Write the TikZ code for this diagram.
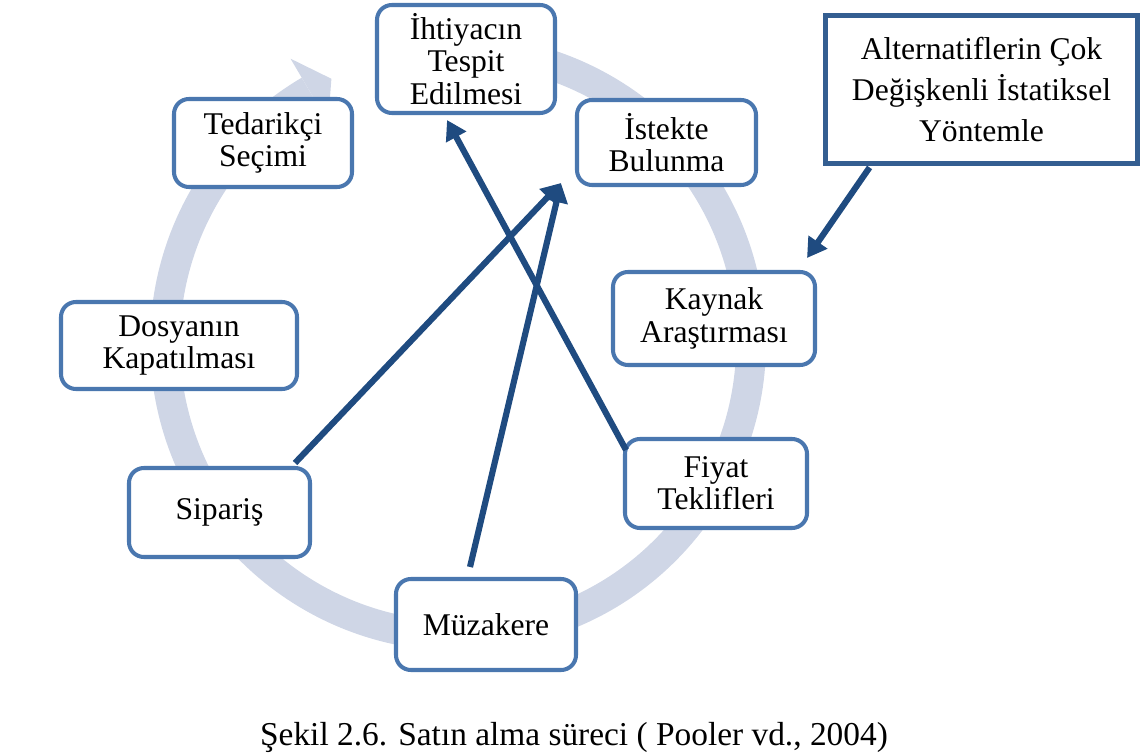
\documentclass[tikz,border=0pt]{standalone}
\usepackage{fontspec}
\setmainfont{Liberation Serif}
\usetikzlibrary{arrows.meta,calc}
\definecolor{boxblue}{RGB}{74,119,175}
\definecolor{connblue}{RGB}{31,75,128}
\definecolor{altblue}{RGB}{52,94,145}
\definecolor{ringblue}{RGB}{207,214,230}
\begin{document}
\begin{tikzpicture}[x=0.02cm,y=-0.02cm,
  stepnode/.style={draw=boxblue, line width=2.3pt, rounded corners=8.5pt, fill=white,
    align=center, inner sep=0pt, font=\fontsize{18}{18.4}\selectfont},
  altnode/.style={draw=altblue, line width=2.8pt, fill=white, align=center, inner sep=0pt,
    font=\fontsize{18}{23.5}\selectfont},
  conn/.style={draw=connblue, line width=3.5pt, -{Triangle[length=11pt,width=12.5pt]}},
  ring/.style={draw=ringblue, line width=17pt},
]
\useasboundingbox (0,0) rectangle (1141,756);
% cycle ring
\coordinate (C) at (458,343);
\draw[ring] ($(C)+(-103:293)$) arc[start angle=-103, end angle=239.5, radius=293];
\fill[ringblue] ($(C)+(239.5:330)$) -- ($(C)+(244.4:293)$) -- ($(C)+(239.5:256)$) -- cycle;
% steps
\node[stepnode, minimum width=178*0.02cm, minimum height=108*0.02cm] (ihtiyac) at (466,59) {İhtiyacın\\Tespit\\Edilmesi};
\node[stepnode, minimum width=179*0.02cm, minimum height=85*0.02cm] (istekte) at (666.5,142.5) {İstekte\\Bulunma};
\node[stepnode, minimum width=178*0.02cm, minimum height=88*0.02cm] (tedarik) at (263,143) {Tedarikçi\\Seçimi};
\node[stepnode, minimum width=202*0.02cm, minimum height=93*0.02cm] (kaynak) at (714,318.5) {Kaynak\\Araştırması};
\node[stepnode, minimum width=236*0.02cm, minimum height=87*0.02cm] (dosya) at (179,345.5) {Dosyanın\\Kapatılması};
\node[stepnode, minimum width=181*0.02cm, minimum height=89*0.02cm] (siparis) at (219.5,512.5) {Sipariş};
\node[stepnode, minimum width=182*0.02cm, minimum height=89*0.02cm] (fiyat) at (716,483.5) {Fiyat\\Teklifleri};
\node[stepnode, minimum width=180*0.02cm, minimum height=91*0.02cm] (muzakere) at (486,624.5) {Müzakere};
\node[altnode, minimum width=312*0.02cm, minimum height=148*0.02cm] (alt) at (981.5,89.5) {Alternatiflerin Çok\\Değişkenli İstatiksel\\Yöntemle};
% connectors
\coordinate (tipI) at ([shift={(-14,-4)}]istekte.south west);
\draw[conn] ([shift={(3,13)}]fiyat.north west) -- ([shift={(-19,5)}]ihtiyac.south);
\draw[conn] ([shift={(-17,-3)}]siparis.north east) -- (tipI);
\draw[conn] ([shift={(-16,-10)}]muzakere.north) -- (tipI);
\draw[conn] ([shift={(46.5,1.5)}]alt.south west) -- ([shift={(-10,-12)}]kaynak.north east);
% caption
\node[font=\fontsize{19}{22}\selectfont, anchor=base, inner sep=0pt] (cap) at (574,745) {Şekil 2.6. Satın alma süreci ( Pooler vd., 2004)};
\end{tikzpicture}
\end{document}
